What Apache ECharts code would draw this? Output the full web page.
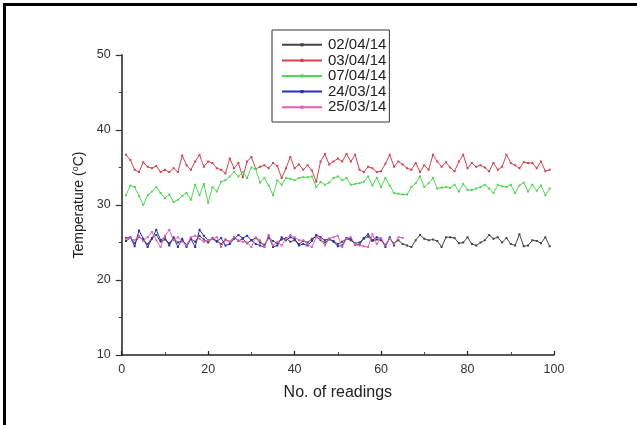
<!DOCTYPE html>
<html>
<head>
<meta charset="utf-8">
<script src="https://cdn.jsdelivr.net/npm/echarts@6/dist/echarts.min.js"></script>
<style>
html,body{margin:0;padding:0;background:#fff;}
#chart{width:637px;height:425px;}
</style>
</head>
<body>
<div id="chart"></div>
<script>
var seriesNames = ['02/04/14', '03/04/14', '07/04/14', '24/03/14', '25/03/14'];
var xTicks = [0, 20, 40, 60, 80, 100];
var yTicks = [10, 20, 30, 40, 50];

var d020414 = [25.2,25.6,24.9,25.8,25.3,24.8,25.6,26.0,25.1,25.4,24.9,25.6,25.0,25.3,24.7,25.5,25.1,25.9,25.4,25.0,25.6,25.2,24.8,25.4,25.1,25.7,25.2,25.5,24.9,25.3,25.6,25.0,24.7,25.6,25.2,24.9,25.4,25.6,25.1,25.3,24.8,25.2,25.0,25.5,25.8,25.3,25.0,25.4,25.2,24.8,25.1,25.5,25.3,24.9,25.0,25.5,25.8,25.2,25.4,25.3,24.7,25.5,24.9,25.3,24.8,24.6,24.4,25.3,26.0,25.5,25.3,25.4,25.2,24.4,25.7,25.7,25.6,24.9,25.0,25.7,24.8,24.6,25.0,25.3,26.0,25.5,25.7,25.0,25.6,24.8,24.6,26.1,24.5,24.6,25.3,25.2,24.9,25.7,24.5];
var d030414 = [36.7,36.0,34.7,34.4,35.7,35.1,34.9,35.2,34.4,34.7,34.4,34.9,34.4,36.6,35.3,34.7,35.8,36.7,35.1,35.8,35.6,34.9,34.7,34.2,36.2,34.9,35.6,33.7,35.8,36.4,34.8,35.1,35.3,34.9,35.6,35.2,33.6,34.9,36.4,34.9,35.4,34.7,35.3,34.6,33.1,35.8,36.8,35.4,35.8,36.2,35.8,36.8,35.8,36.7,34.7,34.4,35.1,34.9,34.4,34.5,35.5,36.7,35.1,35.8,35.4,34.9,34.7,35.6,34.4,35.3,34.7,36.7,35.8,35.1,35.7,35.0,34.5,35.8,36.7,34.9,35.6,35.1,35.3,35.0,34.5,35.6,34.7,35.1,36.7,35.6,35.3,34.9,35.7,35.6,35.6,34.9,35.8,34.5,34.7];
var d070414 = [31.3,32.6,32.4,31.2,30.0,31.3,31.8,32.4,31.6,30.9,31.4,30.4,30.7,31.2,31.6,30.7,32.7,31.3,32.8,30.3,32.4,31.8,33.1,33.3,33.8,34.4,33.8,34.4,33.6,35.0,34.8,33.0,33.6,32.6,31.3,33.3,32.7,33.6,33.5,33.3,33.6,33.7,33.7,33.8,32.4,33.1,32.7,33.0,33.6,33.8,33.3,33.6,32.7,32.8,32.9,33.1,33.8,32.6,33.6,32.4,33.6,32.6,31.6,31.5,31.4,31.4,32.4,32.9,33.8,32.4,32.9,33.6,32.2,32.3,32.4,32.3,32.7,31.8,32.8,32.0,32.0,32.2,32.4,32.7,32.2,31.6,32.7,32.5,32.4,32.7,31.6,32.6,33.0,31.8,32.7,31.9,32.6,31.3,32.2];
var d240314 = [25.6,25.7,24.5,26.6,25.5,24.4,25.5,26.7,25.3,25.7,24.6,25.7,24.4,25.5,24.4,25.5,24.4,26.7,25.9,25.3,25.5,25.1,25.6,24.6,24.8,25.5,26.0,25.6,25.9,25.3,24.8,24.6,24.4,25.9,24.4,24.6,25.7,25.3,25.7,25.5,24.6,24.8,24.6,25.2,26.0,25.7,25.3,25.5,25.1,24.5,24.6,25.6,25.5,24.7,24.7,25.6,26.1,25.3,25.7,25.5,24.4,25.7,24.6];
var d250314 = [25.5,25.6,25.3,25.9,25.2,25.7,26.4,25.3,24.4,25.9,26.7,25.3,25.7,25.1,24.6,25.7,25.9,25.5,25.1,25.3,25.5,25.7,24.4,25.3,25.1,25.7,25.3,25.1,25.0,24.4,25.7,25.3,24.4,26.0,24.6,25.1,24.6,25.5,26.0,25.7,25.3,25.3,24.8,24.4,25.7,25.5,24.6,25.5,25.7,25.9,24.4,25.5,25.7,24.8,24.6,24.5,24.4,26.1,24.8,25.6,24.6,25.5,24.8,25.7,25.6];

var seriesData = [d020414, d030414, d070414, d240314, d250314];
var colors = ['#444444', '#d84050', '#50d850', '#2c2cc0', '#e060b4'];

function pairs(arr) { return arr.map(function (v, i) { return [i + 1, v]; }); }

var chart = echarts.init(document.getElementById('chart'), null, {renderer: 'canvas'});
var font = '"Liberation Sans", Arial, sans-serif';
chart.setOption({
  animation: false,
  backgroundColor: '#fff',
  grid: {left: 121.7, right: 83, top: 55, bottom: 70, containLabel: false},
  legend: {
    orient: 'vertical',
    left: 272, top: 30,
    padding: [7, 3, 7, 9],
    borderColor: '#333', borderWidth: 1,
    itemWidth: 40, itemHeight: 4, itemGap: 0,
    textStyle: {fontFamily: font, fontSize: 15, color: '#222', lineHeight: 15.6, padding: [0, 0, 0, 1]},
    data: seriesNames
  },
  xAxis: {
    type: 'value', min: 0, max: 100, interval: 20,
    name: 'No. of readings', nameLocation: 'middle', nameGap: 30,
    nameTextStyle: {fontFamily: font, fontSize: 16, color: '#222'},
    axisLine: {show: true, lineStyle: {color: '#222', width: 1.5}},
    axisTick: {show: true, inside: true, length: 4, lineStyle: {color: '#222', width: 1.2}},
    minorTick: {show: true, splitNumber: 2, length: 3, lineStyle: {color: '#444', width: 1}},
    axisLabel: {fontFamily: font, fontSize: 12.5, color: '#333', margin: 8,
      formatter: function (v) { return xTicks.indexOf(v) >= 0 ? String(v) : ''; }},
    splitLine: {show: false}
  },
  yAxis: {
    type: 'value', min: 10, max: 50, interval: 10,
    name: 'Temperature ({sup|o}C)', nameLocation: 'middle', nameGap: 35, nameRotate: 90,
    nameTextStyle: {fontFamily: font, fontSize: 14, color: '#222',
      rich: {sup: {fontFamily: font, fontSize: 9, color: '#222', verticalAlign: 'top', padding: [0, 0, 6, 0]}}},
    axisLine: {show: true, lineStyle: {color: '#444', width: 1.8}},
    axisTick: {show: true, inside: false, length: 6, lineStyle: {color: '#333', width: 1.2}},
    minorTick: {show: true, splitNumber: 2, length: 3, lineStyle: {color: '#444', width: 1}},
    axisLabel: {fontFamily: font, fontSize: 12.5, color: '#333', margin: 11,
      formatter: function (v) { return yTicks.indexOf(v) >= 0 ? String(v) : ''; }},
    splitLine: {show: false}
  },
  series: seriesNames.map(function (name, k) {
    return {
      name: name, type: 'line', data: pairs(seriesData[k]),
      symbol: 'rect', symbolSize: 2, showSymbol: true,
      color: colors[k],
      lineStyle: {width: 1, color: colors[k]},
      itemStyle: {color: colors[k]},
      z: 2 + k
    };
  }),
  graphic: [
    {type: 'line', shape: {x1: 3, y1: 4.5, x2: 640, y2: 4.5}, style: {stroke: '#000', lineWidth: 3}},
    {type: 'line', shape: {x1: 4.5, y1: 3, x2: 4.5, y2: 430}, style: {stroke: '#000', lineWidth: 3}}
  ]
});
</script>
</body>
</html>
